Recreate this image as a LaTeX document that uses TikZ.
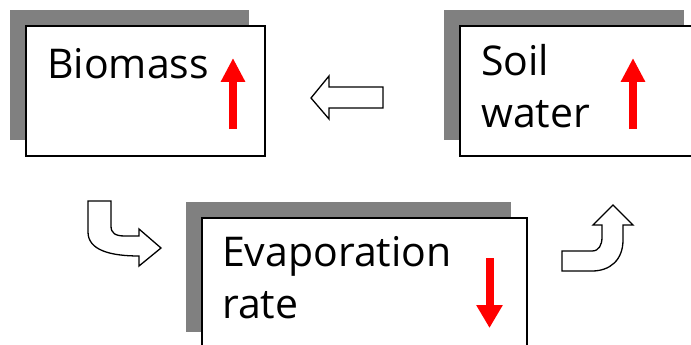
\documentclass[tikz,border=0pt]{standalone}
\usepackage{fontspec}
\setmainfont{Open Sans}
\usetikzlibrary{arrows.meta,shadows}

\definecolor{shadowgray}{RGB}{128,128,128}

\tikzset{
  statebox/.style={draw, line width=1.6pt, fill=white, anchor=north west,
    minimum height=130pt, inner sep=0pt,
    drop shadow={shadow xshift=-16pt, shadow yshift=16pt, fill=shadowgray, opacity=1}},
  statetext/.style={anchor=base west, align=left, inner sep=0pt,
    font=\fontsize{41}{52}\selectfont},
  trend/.style={red, line width=8pt, -{Triangle[length=24pt, width=23pt]}},
  flow/.style={draw, line width=1.3pt, fill=white, line join=miter}
}

\begin{document}
\begin{tikzpicture}[x=1pt, y=-1pt]
  \useasboundingbox (0,0) rectangle (691,345);
  \clip (0,0) rectangle (691,345);

  \node [statebox, minimum width=239pt] (biomass) at (25,25) {};
  \node [statebox, minimum width=240pt] (soil) at (459,25) {};
  \node [statebox, minimum width=325pt] (evap) at (201,217) {};

  \node [statetext] (biomasstext) at (47,78) {Biomass};
  \node [statetext] (soiltext) at (481,128) {Soil\\water};
  \node [statetext] (evaptext) at (222,318) {Evaporation\\rate};

  \draw [trend] (233,129) -- (233,58);
  \draw [trend] (633,129) -- (633,58);
  \draw [trend, -{Triangle[length=23pt, width=25pt]}] (489.5,258) -- (489.5,328);

  % hollow arrows
  \draw [flow] (383,87) -- (329,87) -- (329,76) -- (311,98) -- (329,119)
    -- (329,108) -- (383,108) -- cycle;
  \draw [flow] (88,201) -- (88,232) .. controls (88,250) and (110,256) .. (139,256)
    -- (139,266) -- (161,248) -- (139,229) -- (139,236) -- (125,236)
    .. controls (115,236) and (111,233) .. (111,226) -- (111,201) -- cycle;
  \draw [flow] (562,251) -- (592,251) .. controls (599,251) and (602,245) .. (602,237)
    -- (602,225) -- (593,225) -- (613,205) -- (633,225) -- (623,225) -- (623,240)
    .. controls (623,260) and (610,271) .. (592,271) -- (562,271) -- cycle;
\end{tikzpicture}
\end{document}
